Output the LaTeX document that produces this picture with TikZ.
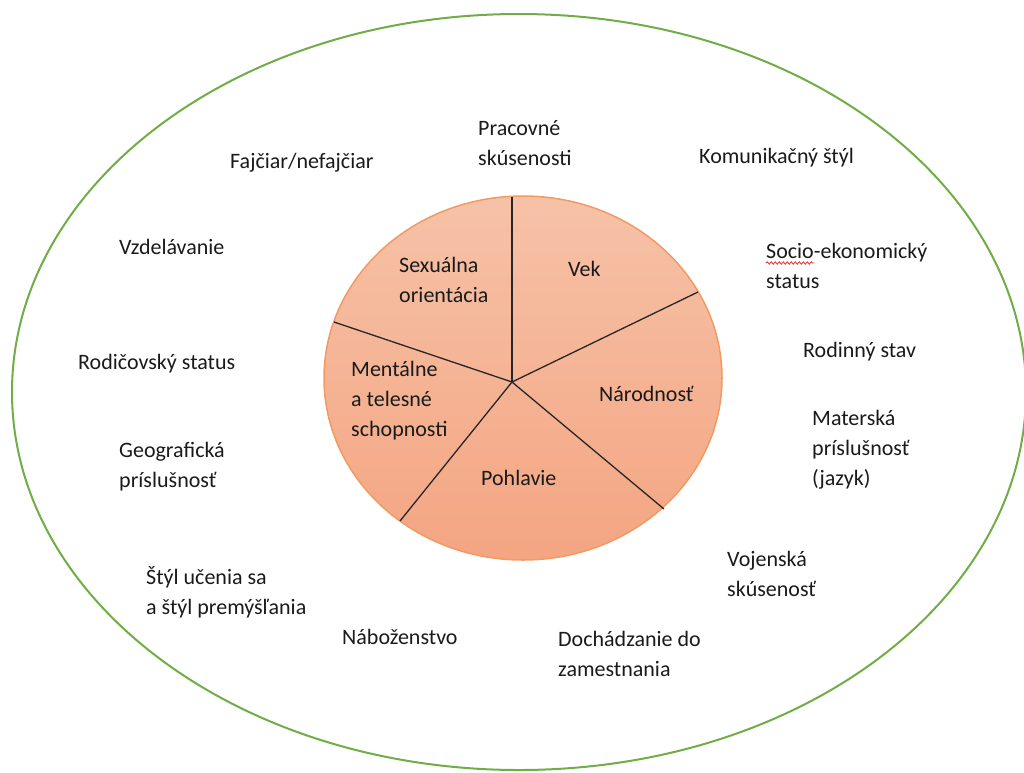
\documentclass[tikz,border=0pt]{standalone}
\usepackage{fontspec}
\setmainfont{Carlito}
\usetikzlibrary{shapes.geometric,decorations.pathmorphing}
\definecolor{ring}{HTML}{70AD47}
\definecolor{pieedge}{HTML}{F09A64}
\definecolor{pietop}{HTML}{F6C2A7}
\definecolor{piebot}{HTML}{F4A582}
\definecolor{txt}{HTML}{1A1A1A}
\definecolor{squig}{HTML}{E03030}
\begin{document}
\begin{tikzpicture}[x=1pt,y=-1pt,
  lbl/.style={anchor=base west, align=left, inner sep=0pt, font=\fontsize{22}{30}\selectfont, text=txt},
  spoke/.style={draw=black!85, line width=1.3pt}]
\useasboundingbox (0,0) rectangle (1024,772);
% outer ring
\node[draw=ring, line width=2pt, ellipse, minimum width=1014pt, minimum height=756pt, inner sep=0pt] (outer) at (519,392) {};
% pie
\node[ellipse, draw=pieedge, line width=1.5pt, top color=pietop, bottom color=piebot, minimum width=398pt, minimum height=364pt, inner sep=0pt] (pie) at (523,378) {};
\coordinate (c) at (512,382);
\coordinate (s1) at (512,197);
\coordinate (s2) at (698,292);
\coordinate (s3) at (664,509);
\coordinate (s4) at (400,521);
\coordinate (s5) at (334,322);
\draw[spoke] (c) -- (s1);
\draw[spoke] (c) -- (s2);
\draw[spoke] (c) -- (s3);
\draw[spoke] (c) -- (s4);
\draw[spoke] (c) -- (s5);
% pie labels (base anchor = baseline of the last line)
\node[lbl] (sex) at (399,302) {Sexuálna\\orientácia};
\node[lbl] (vek) at (568,276) {Vek};
\node[lbl] (nar) at (599,401) {Národnosť};
\node[lbl] (men) at (351,436) {Mentálne\\a telesné\\schopnosti};
\node[lbl] (poh) at (481,485) {Pohlavie};
% outer labels
\node[lbl] (prac) at (478,165) {Pracovné\\skúsenosti};
\node[lbl] (faj) at (230,168) {Fajčiar/nefajčiar};
\node[lbl] (kom) at (699,163) {Komunikačný štýl};
\node[lbl] (vzd) at (119,254) {Vzdelávanie};
\node[lbl] (soc) at (766,288) {Socio-ekonomický\\status};
\node[lbl] (rodic) at (78,369) {Rodičovský status};
\node[lbl] (rodin) at (803,357) {Rodinný stav};
\node[lbl] (mat) at (812,485) {Materská\\príslušnosť\\(jazyk)};
\node[lbl] (geo) at (119,487) {Geografická\\príslušnosť};
\node[lbl] (styl) at (146,614) {Štýl učenia sa\\a štýl premýšľania};
\node[lbl] (voj) at (727,596) {Vojenská\\skúsenosť};
\node[lbl] (nab) at (342,644) {Náboženstvo};
\node[lbl] (doch) at (558,676) {Dochádzanie do\\zamestnania};
% spell-check squiggle under "Socio"
\draw[squig, line width=0.8pt, decorate, decoration={snake, amplitude=1.2pt, segment length=4pt}] ([yshift=25pt]soc.base west) -- ++(48,0);
\end{tikzpicture}
\end{document}
